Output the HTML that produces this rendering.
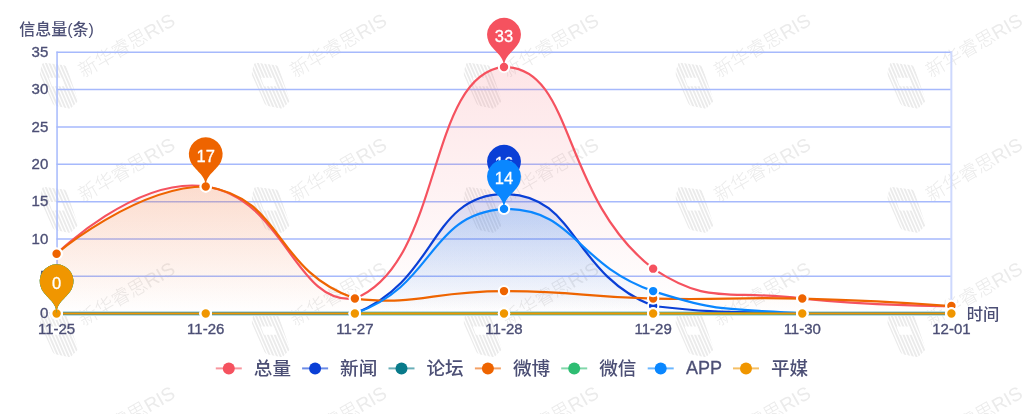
<!DOCTYPE html><html><head><meta charset="utf-8"><title>信息量趋势</title><style>html,body{margin:0;padding:0;background:#fff;}body{width:1024px;height:414px;overflow:hidden;}svg{display:block;will-change:transform;font-family:"Liberation Sans", "Noto Sans CJK SC", sans-serif;}</style></head><body><svg width="1024" height="414" viewBox="0 0 1024 414"><rect width="1024" height="414" fill="#fff"/><defs><linearGradient id="g0" gradientUnits="userSpaceOnUse" x1="0" y1="66.94" x2="0" y2="313.5"><stop offset="0" stop-color="#f5525f" stop-opacity="0.15"/><stop offset="1" stop-color="#f5525f" stop-opacity="0"/></linearGradient><linearGradient id="g1" gradientUnits="userSpaceOnUse" x1="0" y1="193.96" x2="0" y2="313.5"><stop offset="0" stop-color="#0a3fd6" stop-opacity="0.15"/><stop offset="1" stop-color="#0a3fd6" stop-opacity="0"/></linearGradient><linearGradient id="g3" gradientUnits="userSpaceOnUse" x1="0" y1="186.49" x2="0" y2="313.5"><stop offset="0" stop-color="#ee6400" stop-opacity="0.15"/><stop offset="1" stop-color="#ee6400" stop-opacity="0"/></linearGradient><linearGradient id="g5" gradientUnits="userSpaceOnUse" x1="0" y1="208.9" x2="0" y2="313.5"><stop offset="0" stop-color="#0a87ff" stop-opacity="0.15"/><stop offset="1" stop-color="#0a87ff" stop-opacity="0"/></linearGradient><clipPath id="lc"><path clip-rule="evenodd" d="M6,0.4 Q4.2,0.2 3.4,1.8 L1.2,9.6 Q0.8,11.6 1.8,13.6 L14,41 Q15.2,43.2 17.6,43.6 L30,46 Q32,46.2 33.2,44.8 L38.4,39.6 Q39.4,38.4 38.9,36.8 L28,4.8 Q27.2,3.2 25.4,2.9 Z M10.2,15.4 L23.2,15.4 L26.2,23.8 L13.4,23.8 Z"/></clipPath></defs><g><g stroke="#ebebeb" stroke-width="1.9"><g transform="translate(38.7,62.4)" clip-path="url(#lc)"><line x1="-22" y1="-2" x2="-0.3" y2="48"/><line x1="-18.5" y1="-2" x2="3.2" y2="48"/><line x1="-15" y1="-2" x2="6.7" y2="48"/><line x1="-11.5" y1="-2" x2="10.2" y2="48"/><line x1="-8" y1="-2" x2="13.7" y2="48"/><line x1="-4.5" y1="-2" x2="17.2" y2="48"/><line x1="-1" y1="-2" x2="20.7" y2="48"/><line x1="2.5" y1="-2" x2="24.2" y2="48"/><line x1="6" y1="-2" x2="27.7" y2="48"/><line x1="9.5" y1="-2" x2="31.2" y2="48"/><line x1="13" y1="-2" x2="34.7" y2="48"/><line x1="16.5" y1="-2" x2="38.2" y2="48"/><line x1="20" y1="-2" x2="41.7" y2="48"/><line x1="23.5" y1="-2" x2="45.2" y2="48"/><line x1="27" y1="-2" x2="48.7" y2="48"/><line x1="30.5" y1="-2" x2="52.2" y2="48"/><line x1="34" y1="-2" x2="55.7" y2="48"/><line x1="37.5" y1="-2" x2="59.2" y2="48"/></g><g transform="translate(250.6,62.4)" clip-path="url(#lc)"><line x1="-22" y1="-2" x2="-0.3" y2="48"/><line x1="-18.5" y1="-2" x2="3.2" y2="48"/><line x1="-15" y1="-2" x2="6.7" y2="48"/><line x1="-11.5" y1="-2" x2="10.2" y2="48"/><line x1="-8" y1="-2" x2="13.7" y2="48"/><line x1="-4.5" y1="-2" x2="17.2" y2="48"/><line x1="-1" y1="-2" x2="20.7" y2="48"/><line x1="2.5" y1="-2" x2="24.2" y2="48"/><line x1="6" y1="-2" x2="27.7" y2="48"/><line x1="9.5" y1="-2" x2="31.2" y2="48"/><line x1="13" y1="-2" x2="34.7" y2="48"/><line x1="16.5" y1="-2" x2="38.2" y2="48"/><line x1="20" y1="-2" x2="41.7" y2="48"/><line x1="23.5" y1="-2" x2="45.2" y2="48"/><line x1="27" y1="-2" x2="48.7" y2="48"/><line x1="30.5" y1="-2" x2="52.2" y2="48"/><line x1="34" y1="-2" x2="55.7" y2="48"/><line x1="37.5" y1="-2" x2="59.2" y2="48"/></g><g transform="translate(462.5,62.4)" clip-path="url(#lc)"><line x1="-22" y1="-2" x2="-0.3" y2="48"/><line x1="-18.5" y1="-2" x2="3.2" y2="48"/><line x1="-15" y1="-2" x2="6.7" y2="48"/><line x1="-11.5" y1="-2" x2="10.2" y2="48"/><line x1="-8" y1="-2" x2="13.7" y2="48"/><line x1="-4.5" y1="-2" x2="17.2" y2="48"/><line x1="-1" y1="-2" x2="20.7" y2="48"/><line x1="2.5" y1="-2" x2="24.2" y2="48"/><line x1="6" y1="-2" x2="27.7" y2="48"/><line x1="9.5" y1="-2" x2="31.2" y2="48"/><line x1="13" y1="-2" x2="34.7" y2="48"/><line x1="16.5" y1="-2" x2="38.2" y2="48"/><line x1="20" y1="-2" x2="41.7" y2="48"/><line x1="23.5" y1="-2" x2="45.2" y2="48"/><line x1="27" y1="-2" x2="48.7" y2="48"/><line x1="30.5" y1="-2" x2="52.2" y2="48"/><line x1="34" y1="-2" x2="55.7" y2="48"/><line x1="37.5" y1="-2" x2="59.2" y2="48"/></g><g transform="translate(674.4,62.4)" clip-path="url(#lc)"><line x1="-22" y1="-2" x2="-0.3" y2="48"/><line x1="-18.5" y1="-2" x2="3.2" y2="48"/><line x1="-15" y1="-2" x2="6.7" y2="48"/><line x1="-11.5" y1="-2" x2="10.2" y2="48"/><line x1="-8" y1="-2" x2="13.7" y2="48"/><line x1="-4.5" y1="-2" x2="17.2" y2="48"/><line x1="-1" y1="-2" x2="20.7" y2="48"/><line x1="2.5" y1="-2" x2="24.2" y2="48"/><line x1="6" y1="-2" x2="27.7" y2="48"/><line x1="9.5" y1="-2" x2="31.2" y2="48"/><line x1="13" y1="-2" x2="34.7" y2="48"/><line x1="16.5" y1="-2" x2="38.2" y2="48"/><line x1="20" y1="-2" x2="41.7" y2="48"/><line x1="23.5" y1="-2" x2="45.2" y2="48"/><line x1="27" y1="-2" x2="48.7" y2="48"/><line x1="30.5" y1="-2" x2="52.2" y2="48"/><line x1="34" y1="-2" x2="55.7" y2="48"/><line x1="37.5" y1="-2" x2="59.2" y2="48"/></g><g transform="translate(886.3,62.4)" clip-path="url(#lc)"><line x1="-22" y1="-2" x2="-0.3" y2="48"/><line x1="-18.5" y1="-2" x2="3.2" y2="48"/><line x1="-15" y1="-2" x2="6.7" y2="48"/><line x1="-11.5" y1="-2" x2="10.2" y2="48"/><line x1="-8" y1="-2" x2="13.7" y2="48"/><line x1="-4.5" y1="-2" x2="17.2" y2="48"/><line x1="-1" y1="-2" x2="20.7" y2="48"/><line x1="2.5" y1="-2" x2="24.2" y2="48"/><line x1="6" y1="-2" x2="27.7" y2="48"/><line x1="9.5" y1="-2" x2="31.2" y2="48"/><line x1="13" y1="-2" x2="34.7" y2="48"/><line x1="16.5" y1="-2" x2="38.2" y2="48"/><line x1="20" y1="-2" x2="41.7" y2="48"/><line x1="23.5" y1="-2" x2="45.2" y2="48"/><line x1="27" y1="-2" x2="48.7" y2="48"/><line x1="30.5" y1="-2" x2="52.2" y2="48"/><line x1="34" y1="-2" x2="55.7" y2="48"/><line x1="37.5" y1="-2" x2="59.2" y2="48"/></g><g transform="translate(38.7,186.7)" clip-path="url(#lc)"><line x1="-22" y1="-2" x2="-0.3" y2="48"/><line x1="-18.5" y1="-2" x2="3.2" y2="48"/><line x1="-15" y1="-2" x2="6.7" y2="48"/><line x1="-11.5" y1="-2" x2="10.2" y2="48"/><line x1="-8" y1="-2" x2="13.7" y2="48"/><line x1="-4.5" y1="-2" x2="17.2" y2="48"/><line x1="-1" y1="-2" x2="20.7" y2="48"/><line x1="2.5" y1="-2" x2="24.2" y2="48"/><line x1="6" y1="-2" x2="27.7" y2="48"/><line x1="9.5" y1="-2" x2="31.2" y2="48"/><line x1="13" y1="-2" x2="34.7" y2="48"/><line x1="16.5" y1="-2" x2="38.2" y2="48"/><line x1="20" y1="-2" x2="41.7" y2="48"/><line x1="23.5" y1="-2" x2="45.2" y2="48"/><line x1="27" y1="-2" x2="48.7" y2="48"/><line x1="30.5" y1="-2" x2="52.2" y2="48"/><line x1="34" y1="-2" x2="55.7" y2="48"/><line x1="37.5" y1="-2" x2="59.2" y2="48"/></g><g transform="translate(250.6,186.7)" clip-path="url(#lc)"><line x1="-22" y1="-2" x2="-0.3" y2="48"/><line x1="-18.5" y1="-2" x2="3.2" y2="48"/><line x1="-15" y1="-2" x2="6.7" y2="48"/><line x1="-11.5" y1="-2" x2="10.2" y2="48"/><line x1="-8" y1="-2" x2="13.7" y2="48"/><line x1="-4.5" y1="-2" x2="17.2" y2="48"/><line x1="-1" y1="-2" x2="20.7" y2="48"/><line x1="2.5" y1="-2" x2="24.2" y2="48"/><line x1="6" y1="-2" x2="27.7" y2="48"/><line x1="9.5" y1="-2" x2="31.2" y2="48"/><line x1="13" y1="-2" x2="34.7" y2="48"/><line x1="16.5" y1="-2" x2="38.2" y2="48"/><line x1="20" y1="-2" x2="41.7" y2="48"/><line x1="23.5" y1="-2" x2="45.2" y2="48"/><line x1="27" y1="-2" x2="48.7" y2="48"/><line x1="30.5" y1="-2" x2="52.2" y2="48"/><line x1="34" y1="-2" x2="55.7" y2="48"/><line x1="37.5" y1="-2" x2="59.2" y2="48"/></g><g transform="translate(462.5,186.7)" clip-path="url(#lc)"><line x1="-22" y1="-2" x2="-0.3" y2="48"/><line x1="-18.5" y1="-2" x2="3.2" y2="48"/><line x1="-15" y1="-2" x2="6.7" y2="48"/><line x1="-11.5" y1="-2" x2="10.2" y2="48"/><line x1="-8" y1="-2" x2="13.7" y2="48"/><line x1="-4.5" y1="-2" x2="17.2" y2="48"/><line x1="-1" y1="-2" x2="20.7" y2="48"/><line x1="2.5" y1="-2" x2="24.2" y2="48"/><line x1="6" y1="-2" x2="27.7" y2="48"/><line x1="9.5" y1="-2" x2="31.2" y2="48"/><line x1="13" y1="-2" x2="34.7" y2="48"/><line x1="16.5" y1="-2" x2="38.2" y2="48"/><line x1="20" y1="-2" x2="41.7" y2="48"/><line x1="23.5" y1="-2" x2="45.2" y2="48"/><line x1="27" y1="-2" x2="48.7" y2="48"/><line x1="30.5" y1="-2" x2="52.2" y2="48"/><line x1="34" y1="-2" x2="55.7" y2="48"/><line x1="37.5" y1="-2" x2="59.2" y2="48"/></g><g transform="translate(674.4,186.7)" clip-path="url(#lc)"><line x1="-22" y1="-2" x2="-0.3" y2="48"/><line x1="-18.5" y1="-2" x2="3.2" y2="48"/><line x1="-15" y1="-2" x2="6.7" y2="48"/><line x1="-11.5" y1="-2" x2="10.2" y2="48"/><line x1="-8" y1="-2" x2="13.7" y2="48"/><line x1="-4.5" y1="-2" x2="17.2" y2="48"/><line x1="-1" y1="-2" x2="20.7" y2="48"/><line x1="2.5" y1="-2" x2="24.2" y2="48"/><line x1="6" y1="-2" x2="27.7" y2="48"/><line x1="9.5" y1="-2" x2="31.2" y2="48"/><line x1="13" y1="-2" x2="34.7" y2="48"/><line x1="16.5" y1="-2" x2="38.2" y2="48"/><line x1="20" y1="-2" x2="41.7" y2="48"/><line x1="23.5" y1="-2" x2="45.2" y2="48"/><line x1="27" y1="-2" x2="48.7" y2="48"/><line x1="30.5" y1="-2" x2="52.2" y2="48"/><line x1="34" y1="-2" x2="55.7" y2="48"/><line x1="37.5" y1="-2" x2="59.2" y2="48"/></g><g transform="translate(886.3,186.7)" clip-path="url(#lc)"><line x1="-22" y1="-2" x2="-0.3" y2="48"/><line x1="-18.5" y1="-2" x2="3.2" y2="48"/><line x1="-15" y1="-2" x2="6.7" y2="48"/><line x1="-11.5" y1="-2" x2="10.2" y2="48"/><line x1="-8" y1="-2" x2="13.7" y2="48"/><line x1="-4.5" y1="-2" x2="17.2" y2="48"/><line x1="-1" y1="-2" x2="20.7" y2="48"/><line x1="2.5" y1="-2" x2="24.2" y2="48"/><line x1="6" y1="-2" x2="27.7" y2="48"/><line x1="9.5" y1="-2" x2="31.2" y2="48"/><line x1="13" y1="-2" x2="34.7" y2="48"/><line x1="16.5" y1="-2" x2="38.2" y2="48"/><line x1="20" y1="-2" x2="41.7" y2="48"/><line x1="23.5" y1="-2" x2="45.2" y2="48"/><line x1="27" y1="-2" x2="48.7" y2="48"/><line x1="30.5" y1="-2" x2="52.2" y2="48"/><line x1="34" y1="-2" x2="55.7" y2="48"/><line x1="37.5" y1="-2" x2="59.2" y2="48"/></g><g transform="translate(38.7,311)" clip-path="url(#lc)"><line x1="-22" y1="-2" x2="-0.3" y2="48"/><line x1="-18.5" y1="-2" x2="3.2" y2="48"/><line x1="-15" y1="-2" x2="6.7" y2="48"/><line x1="-11.5" y1="-2" x2="10.2" y2="48"/><line x1="-8" y1="-2" x2="13.7" y2="48"/><line x1="-4.5" y1="-2" x2="17.2" y2="48"/><line x1="-1" y1="-2" x2="20.7" y2="48"/><line x1="2.5" y1="-2" x2="24.2" y2="48"/><line x1="6" y1="-2" x2="27.7" y2="48"/><line x1="9.5" y1="-2" x2="31.2" y2="48"/><line x1="13" y1="-2" x2="34.7" y2="48"/><line x1="16.5" y1="-2" x2="38.2" y2="48"/><line x1="20" y1="-2" x2="41.7" y2="48"/><line x1="23.5" y1="-2" x2="45.2" y2="48"/><line x1="27" y1="-2" x2="48.7" y2="48"/><line x1="30.5" y1="-2" x2="52.2" y2="48"/><line x1="34" y1="-2" x2="55.7" y2="48"/><line x1="37.5" y1="-2" x2="59.2" y2="48"/></g><g transform="translate(250.6,311)" clip-path="url(#lc)"><line x1="-22" y1="-2" x2="-0.3" y2="48"/><line x1="-18.5" y1="-2" x2="3.2" y2="48"/><line x1="-15" y1="-2" x2="6.7" y2="48"/><line x1="-11.5" y1="-2" x2="10.2" y2="48"/><line x1="-8" y1="-2" x2="13.7" y2="48"/><line x1="-4.5" y1="-2" x2="17.2" y2="48"/><line x1="-1" y1="-2" x2="20.7" y2="48"/><line x1="2.5" y1="-2" x2="24.2" y2="48"/><line x1="6" y1="-2" x2="27.7" y2="48"/><line x1="9.5" y1="-2" x2="31.2" y2="48"/><line x1="13" y1="-2" x2="34.7" y2="48"/><line x1="16.5" y1="-2" x2="38.2" y2="48"/><line x1="20" y1="-2" x2="41.7" y2="48"/><line x1="23.5" y1="-2" x2="45.2" y2="48"/><line x1="27" y1="-2" x2="48.7" y2="48"/><line x1="30.5" y1="-2" x2="52.2" y2="48"/><line x1="34" y1="-2" x2="55.7" y2="48"/><line x1="37.5" y1="-2" x2="59.2" y2="48"/></g><g transform="translate(462.5,311)" clip-path="url(#lc)"><line x1="-22" y1="-2" x2="-0.3" y2="48"/><line x1="-18.5" y1="-2" x2="3.2" y2="48"/><line x1="-15" y1="-2" x2="6.7" y2="48"/><line x1="-11.5" y1="-2" x2="10.2" y2="48"/><line x1="-8" y1="-2" x2="13.7" y2="48"/><line x1="-4.5" y1="-2" x2="17.2" y2="48"/><line x1="-1" y1="-2" x2="20.7" y2="48"/><line x1="2.5" y1="-2" x2="24.2" y2="48"/><line x1="6" y1="-2" x2="27.7" y2="48"/><line x1="9.5" y1="-2" x2="31.2" y2="48"/><line x1="13" y1="-2" x2="34.7" y2="48"/><line x1="16.5" y1="-2" x2="38.2" y2="48"/><line x1="20" y1="-2" x2="41.7" y2="48"/><line x1="23.5" y1="-2" x2="45.2" y2="48"/><line x1="27" y1="-2" x2="48.7" y2="48"/><line x1="30.5" y1="-2" x2="52.2" y2="48"/><line x1="34" y1="-2" x2="55.7" y2="48"/><line x1="37.5" y1="-2" x2="59.2" y2="48"/></g><g transform="translate(674.4,311)" clip-path="url(#lc)"><line x1="-22" y1="-2" x2="-0.3" y2="48"/><line x1="-18.5" y1="-2" x2="3.2" y2="48"/><line x1="-15" y1="-2" x2="6.7" y2="48"/><line x1="-11.5" y1="-2" x2="10.2" y2="48"/><line x1="-8" y1="-2" x2="13.7" y2="48"/><line x1="-4.5" y1="-2" x2="17.2" y2="48"/><line x1="-1" y1="-2" x2="20.7" y2="48"/><line x1="2.5" y1="-2" x2="24.2" y2="48"/><line x1="6" y1="-2" x2="27.7" y2="48"/><line x1="9.5" y1="-2" x2="31.2" y2="48"/><line x1="13" y1="-2" x2="34.7" y2="48"/><line x1="16.5" y1="-2" x2="38.2" y2="48"/><line x1="20" y1="-2" x2="41.7" y2="48"/><line x1="23.5" y1="-2" x2="45.2" y2="48"/><line x1="27" y1="-2" x2="48.7" y2="48"/><line x1="30.5" y1="-2" x2="52.2" y2="48"/><line x1="34" y1="-2" x2="55.7" y2="48"/><line x1="37.5" y1="-2" x2="59.2" y2="48"/></g><g transform="translate(886.3,311)" clip-path="url(#lc)"><line x1="-22" y1="-2" x2="-0.3" y2="48"/><line x1="-18.5" y1="-2" x2="3.2" y2="48"/><line x1="-15" y1="-2" x2="6.7" y2="48"/><line x1="-11.5" y1="-2" x2="10.2" y2="48"/><line x1="-8" y1="-2" x2="13.7" y2="48"/><line x1="-4.5" y1="-2" x2="17.2" y2="48"/><line x1="-1" y1="-2" x2="20.7" y2="48"/><line x1="2.5" y1="-2" x2="24.2" y2="48"/><line x1="6" y1="-2" x2="27.7" y2="48"/><line x1="9.5" y1="-2" x2="31.2" y2="48"/><line x1="13" y1="-2" x2="34.7" y2="48"/><line x1="16.5" y1="-2" x2="38.2" y2="48"/><line x1="20" y1="-2" x2="41.7" y2="48"/><line x1="23.5" y1="-2" x2="45.2" y2="48"/><line x1="27" y1="-2" x2="48.7" y2="48"/><line x1="30.5" y1="-2" x2="52.2" y2="48"/><line x1="34" y1="-2" x2="55.7" y2="48"/><line x1="37.5" y1="-2" x2="59.2" y2="48"/></g></g><g fill="#ebebeb" font-size="19" font-weight="300"><text transform="translate(-128.7,77.9) rotate(-30)">新华睿思RIS</text><text transform="translate(83.2,77.9) rotate(-30)">新华睿思RIS</text><text transform="translate(295.1,77.9) rotate(-30)">新华睿思RIS</text><text transform="translate(507,77.9) rotate(-30)">新华睿思RIS</text><text transform="translate(718.9,77.9) rotate(-30)">新华睿思RIS</text><text transform="translate(930.8,77.9) rotate(-30)">新华睿思RIS</text><text transform="translate(-128.7,202.2) rotate(-30)">新华睿思RIS</text><text transform="translate(83.2,202.2) rotate(-30)">新华睿思RIS</text><text transform="translate(295.1,202.2) rotate(-30)">新华睿思RIS</text><text transform="translate(507,202.2) rotate(-30)">新华睿思RIS</text><text transform="translate(718.9,202.2) rotate(-30)">新华睿思RIS</text><text transform="translate(930.8,202.2) rotate(-30)">新华睿思RIS</text><text transform="translate(-128.7,326.5) rotate(-30)">新华睿思RIS</text><text transform="translate(83.2,326.5) rotate(-30)">新华睿思RIS</text><text transform="translate(295.1,326.5) rotate(-30)">新华睿思RIS</text><text transform="translate(507,326.5) rotate(-30)">新华睿思RIS</text><text transform="translate(718.9,326.5) rotate(-30)">新华睿思RIS</text><text transform="translate(930.8,326.5) rotate(-30)">新华睿思RIS</text><text transform="translate(-128.7,450.8) rotate(-30)">新华睿思RIS</text><text transform="translate(83.2,450.8) rotate(-30)">新华睿思RIS</text><text transform="translate(295.1,450.8) rotate(-30)">新华睿思RIS</text><text transform="translate(507,450.8) rotate(-30)">新华睿思RIS</text><text transform="translate(718.9,450.8) rotate(-30)">新华睿思RIS</text><text transform="translate(930.8,450.8) rotate(-30)">新华睿思RIS</text></g></g><g stroke="#a6b9fc" stroke-width="1.5"><line x1="56.5" y1="276.34" x2="951.9" y2="276.34"/><line x1="56.5" y1="238.99" x2="951.9" y2="238.99"/><line x1="56.5" y1="201.63" x2="951.9" y2="201.63"/><line x1="56.5" y1="164.27" x2="951.9" y2="164.27"/><line x1="56.5" y1="126.91" x2="951.9" y2="126.91"/><line x1="56.5" y1="89.56" x2="951.9" y2="89.56"/><line x1="56.5" y1="52.2" x2="951.9" y2="52.2"/></g><line x1="57.05" y1="51.5" x2="57.05" y2="314" stroke="#a6b9fc" stroke-width="1.5"/><line x1="951.35" y1="51.5" x2="951.35" y2="314" stroke="#cdd8fd" stroke-width="2"/><line x1="56.6" y1="313.5" x2="951.4" y2="313.5" stroke="#bcdde6" stroke-width="5"/><g fill="#4c4f75" font-size="15" stroke="#4c4f75" stroke-width="0.35"><text x="48.3" y="318.3" text-anchor="end">0</text><text x="48.3" y="280.94" text-anchor="end">5</text><text x="48.3" y="243.59" text-anchor="end">10</text><text x="48.3" y="206.23" text-anchor="end">15</text><text x="48.3" y="168.87" text-anchor="end">20</text><text x="48.3" y="131.51" text-anchor="end">25</text><text x="48.3" y="94.16" text-anchor="end">30</text><text x="48.3" y="56.8" text-anchor="end">35</text><text x="56.6" y="334.2" text-anchor="middle">11-25</text><text x="205.73" y="334.2" text-anchor="middle">11-26</text><text x="354.87" y="334.2" text-anchor="middle">11-27</text><text x="504" y="334.2" text-anchor="middle">11-28</text><text x="653.13" y="334.2" text-anchor="middle">11-29</text><text x="802.27" y="334.2" text-anchor="middle">11-30</text><text x="951.4" y="334.2" text-anchor="middle">12-01</text></g><text x="56.5" y="35.2" text-anchor="middle" font-size="16" font-weight="500" fill="#4c4f75">信息量(条)</text><text x="966.8" y="319.8" font-size="16.3" font-weight="500" fill="#4c4f75">时间</text><path d="M56.6,253.73C56.6,253.73 136.06,176.01 205.73,186.49C285.19,198.43 294.65,306.03 354.87,298.56C443.78,262.92 425.95,74.76 504,66.94C575.08,66.94 560.29,196.58 653.13,268.67C709.42,306.03 727.01,289.13 802.27,298.56C876.15,306.03 951.4,306.03 951.4,306.03L951.4,313.5L56.6,313.5Z" fill="url(#g0)"/><path d="M56.6,313.5C56.6,313.5 131.17,313.5 205.73,313.5C280.3,313.5 289.5,313.5 354.87,313.5C438.64,279.93 428.53,195.85 504,193.96C577.66,193.96 570.3,272.83 653.13,306.03C719.43,313.5 727.65,311.63 802.27,313.5C876.79,313.5 951.4,313.5 951.4,313.5L951.4,313.5L56.6,313.5Z" fill="url(#g1)"/><path d="M56.6,253.73C56.6,253.73 136.06,186.49 205.73,186.49C285.19,198.43 272.03,269.51 354.87,298.56C421.17,306.03 429.43,291.09 504,291.09C578.57,291.09 578.52,296.69 653.13,298.56C727.65,300.42 727.75,296.69 802.27,298.56C876.88,300.43 951.4,306.03 951.4,306.03L951.4,313.5L56.6,313.5Z" fill="url(#g3)"/><path d="M56.6,313.5C56.6,313.5 131.17,313.5 205.73,313.5C280.3,313.5 287.73,313.5 354.87,313.5C436.87,284.74 426.92,214.69 504,208.9C576.05,208.9 574.04,263.35 653.13,291.09C723.18,313.5 727.28,307.87 802.27,313.5C876.42,313.5 951.4,313.5 951.4,313.5L951.4,313.5L56.6,313.5Z" fill="url(#g5)"/><path d="M56.6,253.73C56.6,253.73 136.06,176.01 205.73,186.49C285.19,198.43 294.65,306.03 354.87,298.56C443.78,262.92 425.95,74.76 504,66.94C575.08,66.94 560.29,196.58 653.13,268.67C709.42,306.03 727.01,289.13 802.27,298.56C876.15,306.03 951.4,306.03 951.4,306.03" fill="none" stroke="#f5525f" stroke-width="2.2" stroke-linejoin="round"/><path d="M56.6,313.5C56.6,313.5 131.17,313.5 205.73,313.5C280.3,313.5 289.5,313.5 354.87,313.5C438.64,279.93 428.53,195.85 504,193.96C577.66,193.96 570.3,272.83 653.13,306.03C719.43,313.5 727.65,311.63 802.27,313.5C876.79,313.5 951.4,313.5 951.4,313.5" fill="none" stroke="#0a3fd6" stroke-width="2.2" stroke-linejoin="round"/><path d="M56.6,313.5C56.6,313.5 131.17,313.5 205.73,313.5C280.3,313.5 280.3,313.5 354.87,313.5C429.43,313.5 429.43,313.5 504,313.5C578.57,313.5 578.57,313.5 653.13,313.5C727.7,313.5 727.7,313.5 802.27,313.5C876.83,313.5 951.4,313.5 951.4,313.5" fill="none" stroke="#087a8a" stroke-width="2.2" stroke-linejoin="round"/><path d="M56.6,253.73C56.6,253.73 136.06,186.49 205.73,186.49C285.19,198.43 272.03,269.51 354.87,298.56C421.17,306.03 429.43,291.09 504,291.09C578.57,291.09 578.52,296.69 653.13,298.56C727.65,300.42 727.75,296.69 802.27,298.56C876.88,300.43 951.4,306.03 951.4,306.03" fill="none" stroke="#ee6400" stroke-width="2.2" stroke-linejoin="round"/><path d="M56.6,313.5C56.6,313.5 131.17,313.5 205.73,313.5C280.3,313.5 280.3,313.5 354.87,313.5C429.43,313.5 429.43,313.5 504,313.5C578.57,313.5 578.57,313.5 653.13,313.5C727.7,313.5 727.7,313.5 802.27,313.5C876.83,313.5 951.4,313.5 951.4,313.5" fill="none" stroke="#2ebd72" stroke-width="2.2" stroke-linejoin="round"/><path d="M56.6,313.5C56.6,313.5 131.17,313.5 205.73,313.5C280.3,313.5 287.73,313.5 354.87,313.5C436.87,284.74 426.92,214.69 504,208.9C576.05,208.9 574.04,263.35 653.13,291.09C723.18,313.5 727.28,307.87 802.27,313.5C876.42,313.5 951.4,313.5 951.4,313.5" fill="none" stroke="#0a87ff" stroke-width="2.2" stroke-linejoin="round"/><path d="M56.6,313.5C56.6,313.5 131.17,313.5 205.73,313.5C280.3,313.5 280.3,313.5 354.87,313.5C429.43,313.5 429.43,313.5 504,313.5C578.57,313.5 578.57,313.5 653.13,313.5C727.7,313.5 727.7,313.5 802.27,313.5C876.83,313.5 951.4,313.5 951.4,313.5" fill="none" stroke="#f09600" stroke-width="2.2" stroke-linejoin="round"/><circle cx="56.6" cy="253.73" r="5.2" fill="#f5525f" stroke="#fff" stroke-width="2"/><circle cx="205.73" cy="186.49" r="5.2" fill="#f5525f" stroke="#fff" stroke-width="2"/><circle cx="354.87" cy="298.56" r="5.2" fill="#f5525f" stroke="#fff" stroke-width="2"/><circle cx="504" cy="66.94" r="5.2" fill="#f5525f" stroke="#fff" stroke-width="2"/><circle cx="653.13" cy="268.67" r="5.2" fill="#f5525f" stroke="#fff" stroke-width="2"/><circle cx="802.27" cy="298.56" r="5.2" fill="#f5525f" stroke="#fff" stroke-width="2"/><circle cx="951.4" cy="306.03" r="5.2" fill="#f5525f" stroke="#fff" stroke-width="2"/><circle cx="56.6" cy="313.5" r="5.2" fill="#0a3fd6" stroke="#fff" stroke-width="2"/><circle cx="205.73" cy="313.5" r="5.2" fill="#0a3fd6" stroke="#fff" stroke-width="2"/><circle cx="354.87" cy="313.5" r="5.2" fill="#0a3fd6" stroke="#fff" stroke-width="2"/><circle cx="504" cy="193.96" r="5.2" fill="#0a3fd6" stroke="#fff" stroke-width="2"/><circle cx="653.13" cy="306.03" r="5.2" fill="#0a3fd6" stroke="#fff" stroke-width="2"/><circle cx="802.27" cy="313.5" r="5.2" fill="#0a3fd6" stroke="#fff" stroke-width="2"/><circle cx="951.4" cy="313.5" r="5.2" fill="#0a3fd6" stroke="#fff" stroke-width="2"/><circle cx="56.6" cy="313.5" r="5.2" fill="#087a8a" stroke="#fff" stroke-width="2"/><circle cx="205.73" cy="313.5" r="5.2" fill="#087a8a" stroke="#fff" stroke-width="2"/><circle cx="354.87" cy="313.5" r="5.2" fill="#087a8a" stroke="#fff" stroke-width="2"/><circle cx="504" cy="313.5" r="5.2" fill="#087a8a" stroke="#fff" stroke-width="2"/><circle cx="653.13" cy="313.5" r="5.2" fill="#087a8a" stroke="#fff" stroke-width="2"/><circle cx="802.27" cy="313.5" r="5.2" fill="#087a8a" stroke="#fff" stroke-width="2"/><circle cx="951.4" cy="313.5" r="5.2" fill="#087a8a" stroke="#fff" stroke-width="2"/><circle cx="56.6" cy="253.73" r="5.2" fill="#ee6400" stroke="#fff" stroke-width="2"/><circle cx="205.73" cy="186.49" r="5.2" fill="#ee6400" stroke="#fff" stroke-width="2"/><circle cx="354.87" cy="298.56" r="5.2" fill="#ee6400" stroke="#fff" stroke-width="2"/><circle cx="504" cy="291.09" r="5.2" fill="#ee6400" stroke="#fff" stroke-width="2"/><circle cx="653.13" cy="298.56" r="5.2" fill="#ee6400" stroke="#fff" stroke-width="2"/><circle cx="802.27" cy="298.56" r="5.2" fill="#ee6400" stroke="#fff" stroke-width="2"/><circle cx="951.4" cy="306.03" r="5.2" fill="#ee6400" stroke="#fff" stroke-width="2"/><circle cx="56.6" cy="313.5" r="5.2" fill="#2ebd72" stroke="#fff" stroke-width="2"/><circle cx="205.73" cy="313.5" r="5.2" fill="#2ebd72" stroke="#fff" stroke-width="2"/><circle cx="354.87" cy="313.5" r="5.2" fill="#2ebd72" stroke="#fff" stroke-width="2"/><circle cx="504" cy="313.5" r="5.2" fill="#2ebd72" stroke="#fff" stroke-width="2"/><circle cx="653.13" cy="313.5" r="5.2" fill="#2ebd72" stroke="#fff" stroke-width="2"/><circle cx="802.27" cy="313.5" r="5.2" fill="#2ebd72" stroke="#fff" stroke-width="2"/><circle cx="951.4" cy="313.5" r="5.2" fill="#2ebd72" stroke="#fff" stroke-width="2"/><circle cx="56.6" cy="313.5" r="5.2" fill="#0a87ff" stroke="#fff" stroke-width="2"/><circle cx="205.73" cy="313.5" r="5.2" fill="#0a87ff" stroke="#fff" stroke-width="2"/><circle cx="354.87" cy="313.5" r="5.2" fill="#0a87ff" stroke="#fff" stroke-width="2"/><circle cx="504" cy="208.9" r="5.2" fill="#0a87ff" stroke="#fff" stroke-width="2"/><circle cx="653.13" cy="291.09" r="5.2" fill="#0a87ff" stroke="#fff" stroke-width="2"/><circle cx="802.27" cy="313.5" r="5.2" fill="#0a87ff" stroke="#fff" stroke-width="2"/><circle cx="951.4" cy="313.5" r="5.2" fill="#0a87ff" stroke="#fff" stroke-width="2"/><circle cx="56.6" cy="313.5" r="5.2" fill="#f09600" stroke="#fff" stroke-width="2"/><circle cx="205.73" cy="313.5" r="5.2" fill="#f09600" stroke="#fff" stroke-width="2"/><circle cx="354.87" cy="313.5" r="5.2" fill="#f09600" stroke="#fff" stroke-width="2"/><circle cx="504" cy="313.5" r="5.2" fill="#f09600" stroke="#fff" stroke-width="2"/><circle cx="653.13" cy="313.5" r="5.2" fill="#f09600" stroke="#fff" stroke-width="2"/><circle cx="802.27" cy="313.5" r="5.2" fill="#f09600" stroke="#fff" stroke-width="2"/><circle cx="951.4" cy="313.5" r="5.2" fill="#f09600" stroke="#fff" stroke-width="2"/><path d="M488.71,41.97 A16.92,16.92 0 1 1 519.29,41.97 C514.94,51.14 504,55.1 504,66.94 C504,55.1 493.06,51.14 488.71,41.97 Z" fill="#f5525f"/><text x="504" y="42.35" text-anchor="middle" font-size="16.5" fill="#fff" stroke="#fff" stroke-width="0.3">33</text><path d="M488.71,168.98 A16.92,16.92 0 1 1 519.29,168.98 C514.94,178.15 504,182.11 504,193.96 C504,182.11 493.06,178.15 488.71,168.98 Z" fill="#0a3fd6"/><text x="504" y="169.37" text-anchor="middle" font-size="16.5" fill="#fff" stroke="#fff" stroke-width="0.3">16</text><path d="M41.31,288.52 A16.92,16.92 0 1 1 71.89,288.52 C67.54,297.7 56.6,301.66 56.6,313.5 C56.6,301.66 45.66,297.7 41.31,288.52 Z" fill="#087a8a"/><text x="56.6" y="288.91" text-anchor="middle" font-size="16.5" fill="#fff" stroke="#fff" stroke-width="0.3">0</text><path d="M190.45,161.51 A16.92,16.92 0 1 1 221.02,161.51 C216.67,170.68 205.73,174.64 205.73,186.49 C205.73,174.64 194.8,170.68 190.45,161.51 Z" fill="#ee6400"/><text x="205.73" y="161.9" text-anchor="middle" font-size="16.5" fill="#fff" stroke="#fff" stroke-width="0.3">17</text><path d="M41.31,288.52 A16.92,16.92 0 1 1 71.89,288.52 C67.54,297.7 56.6,301.66 56.6,313.5 C56.6,301.66 45.66,297.7 41.31,288.52 Z" fill="#2ebd72"/><text x="56.6" y="288.91" text-anchor="middle" font-size="16.5" fill="#fff" stroke="#fff" stroke-width="0.3">0</text><path d="M488.71,183.92 A16.92,16.92 0 1 1 519.29,183.92 C514.94,193.1 504,197.06 504,208.9 C504,197.06 493.06,193.1 488.71,183.92 Z" fill="#0a87ff"/><text x="504" y="184.31" text-anchor="middle" font-size="16.5" fill="#fff" stroke="#fff" stroke-width="0.3">14</text><path d="M41.31,288.52 A16.92,16.92 0 1 1 71.89,288.52 C67.54,297.7 56.6,301.66 56.6,313.5 C56.6,301.66 45.66,297.7 41.31,288.52 Z" fill="#f09600"/><text x="56.6" y="288.91" text-anchor="middle" font-size="16.5" fill="#fff" stroke="#fff" stroke-width="0.3">0</text><line x1="215.8" y1="368.4" x2="241.8" y2="368.4" stroke="#f5525f" stroke-width="2" opacity="0.6"/><circle cx="228.8" cy="368.4" r="6" fill="#f5525f"/><text x="253.8" y="375.2" font-size="18.6" font-weight="500" fill="#4c4f75">总量</text><line x1="302.1" y1="368.4" x2="328.1" y2="368.4" stroke="#0a3fd6" stroke-width="2" opacity="0.6"/><circle cx="315.1" cy="368.4" r="6" fill="#0a3fd6"/><text x="340.1" y="375.2" font-size="18.6" font-weight="500" fill="#4c4f75">新闻</text><line x1="388.5" y1="368.4" x2="414.5" y2="368.4" stroke="#087a8a" stroke-width="2" opacity="0.6"/><circle cx="401.5" cy="368.4" r="6" fill="#087a8a"/><text x="426.5" y="375.2" font-size="18.6" font-weight="500" fill="#4c4f75">论坛</text><line x1="474.9" y1="368.4" x2="500.9" y2="368.4" stroke="#ee6400" stroke-width="2" opacity="0.6"/><circle cx="487.9" cy="368.4" r="6" fill="#ee6400"/><text x="512.9" y="375.2" font-size="18.6" font-weight="500" fill="#4c4f75">微博</text><line x1="561.2" y1="368.4" x2="587.2" y2="368.4" stroke="#2ebd72" stroke-width="2" opacity="0.6"/><circle cx="574.2" cy="368.4" r="6" fill="#2ebd72"/><text x="599.2" y="375.2" font-size="18.6" font-weight="500" fill="#4c4f75">微信</text><line x1="647.7" y1="368.4" x2="673.7" y2="368.4" stroke="#0a87ff" stroke-width="2" opacity="0.6"/><circle cx="660.7" cy="368.4" r="6" fill="#0a87ff"/><text x="686" y="374.4" font-size="18" fill="#4c4f75" stroke="#4c4f75" stroke-width="0.3">APP</text><line x1="733" y1="368.4" x2="759" y2="368.4" stroke="#f09600" stroke-width="2" opacity="0.6"/><circle cx="746" cy="368.4" r="6" fill="#f09600"/><text x="771" y="375.2" font-size="18.6" font-weight="500" fill="#4c4f75">平媒</text></svg></body></html>
